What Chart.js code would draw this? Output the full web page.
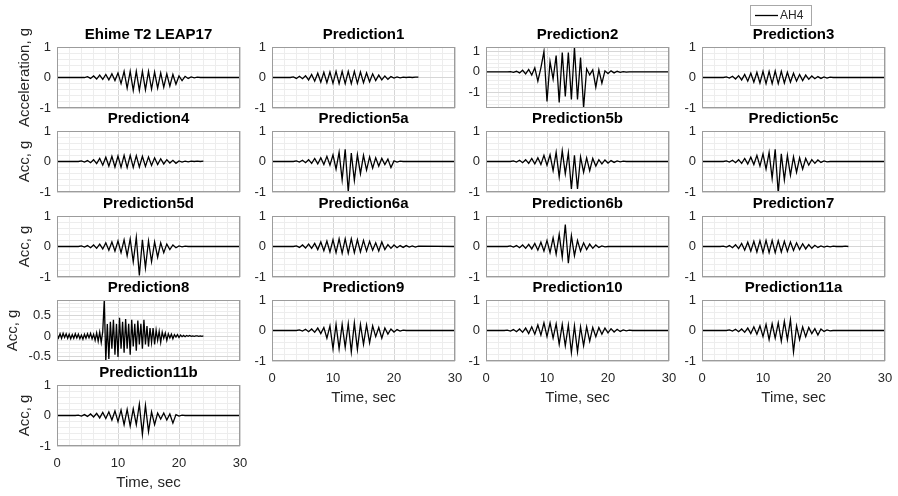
<!DOCTYPE html>
<html>
<head>
<meta charset="utf-8">
<script src="https://cdn.jsdelivr.net/npm/chart.js@4.4.1/dist/chart.umd.min.js"></script>
<style>
  body { margin: 0; background: #fff; }
  #wrap { position: relative; width: 898px; height: 496px; overflow: hidden; background: #fff; }
  #wrap canvas { position: absolute; }
</style>
</head>
<body>
<div id="wrap"></div>
<script>
// time base, sec (most records)
const T = [0,
  3, 3.5, 4, 4.5, 5, 5.5, 6, 6.5, 7, 7.5, 8, 8.5, 9, 9.5, 10, 10.5,
  11, 11.5, 12, 12.5, 13, 13.5, 14, 14.5, 15, 15.5, 16, 16.5, 17, 17.5, 18, 18.5,
  19, 19.5, 20, 20.5, 21, 21.5, 22, 22.5, 23, 23.5, 24,
  30];

// acceleration, g
const ehime = [0,
  0, 0, 0, 0,  0.03, -0.03, 0.05, -0.05,  0.08, -0.06, 0.1, -0.08,  0.12, -0.1, 0.15, -0.2,
  0.2, -0.35, 0.2, -0.42,  0.2, -0.42, 0.2, -0.4,  0.2, -0.38, 0.18, -0.35,  0.15, -0.32, 0.12, -0.28,
  0.1, -0.22, 0.05, -0.1,  0.04, -0.03, 0.02, -0.01,  0.01, 0, 0,
  0];
const pred1 = [0,
  0, 0.02, -0.03, 0.04,  -0.04, 0.06, -0.08, 0.1,  -0.12, 0.14, -0.15, 0.17,  -0.17, 0.18, -0.19, 0.2,
  -0.2, 0.2, -0.2, 0.2,  -0.2, 0.2, -0.19, 0.18,  -0.17, 0.15, -0.14, 0.12,  -0.1, 0.08, -0.08, 0.05,
  -0.06, 0.03, -0.02, 0.02,  -0.01, 0.01, 0, 0.01,  0, 0.01, 0.01,
  null];
const pred2 = [0,
  0, 0, 0.01, -0.02,  0.03, -0.05, 0.08, -0.1,  0.12, -0.15, 0.2, -0.45,  0.2, 1.0, -1.45, 0.5,
  -0.35, 0.8, -1.5, 0.95,  -1.2, 0.95, -1.35, 1.2,  -1.35, 0.7, -1.76, 0.15,  -0.15, 0.1, -0.75, 0.1,
  -0.55, 0.05, -0.08, 0.05,  -0.05, 0.03, -0.02, 0.01,  -0.01, 0, 0,
  0];
const pred3 = [0,
  0, 0, 0.02, -0.02,  0.04, -0.05, 0.06, -0.08,  0.1, -0.12, 0.14, -0.15,  0.17, -0.18, 0.2, -0.2,
  0.2, -0.2, 0.21, -0.2,  0.2, -0.18, 0.17, -0.15,  0.14, -0.12, 0.1, -0.1,  0.08, -0.06, 0.05, -0.04,
  0.03, -0.03, 0.02, -0.02,  0.01, 0, 0, 0,  0, 0, 0,
  0];
const pred4 = [0,
  0, 0, 0.02, -0.02,  0.03, -0.04, 0.06, -0.07,  0.1, -0.12, 0.14, -0.15,  0.17, -0.18, 0.18, -0.19,
  0.2, -0.2, 0.2, -0.19,  0.19, -0.18, 0.17, -0.16,  0.15, -0.13, 0.12, -0.1,  0.09, -0.08, 0.06, -0.05,
  0.04, -0.06, 0.02, -0.02,  0.01, -0.01, 0.01, 0,  0.01, 0, 0.01,
  null];
const pred5a = [0,
  0, 0, 0.02, -0.02,  0.04, -0.04, 0.06, -0.06,  0.1, -0.08, 0.12, -0.1,  0.17, -0.12, 0.22, -0.25,
  0.3, -0.6, 0.4, -1.0,  0.28, -0.62, 0.22, -0.4,  0.2, -0.28, 0.15, -0.22,  0.12, -0.15, 0.1, -0.1,
  0.08, -0.2, 0.02, -0.02,  0.01, 0, 0, 0,  0, 0, 0,
  0];
const pred5b = [0,
  0, 0, 0, 0.02,  -0.02, 0.04, -0.04, 0.06,  -0.06, 0.1, -0.08, 0.12,  -0.1, 0.2, -0.12, 0.22,
  -0.3, 0.3, -0.5, 0.35,  -0.4, 0.28, -0.9, 0.2,  -0.9, 0.15, -0.35, 0.12,  -0.3, 0.1, -0.15, 0.06,
  -0.08, 0.05, -0.05, 0.03,  -0.03, 0.02, -0.01, 0.01,  0, 0, 0,
  0];
const pred5c = [0,
  0, 0, 0.02, -0.02,  0.04, -0.04, 0.06, -0.06,  0.1, -0.08, 0.14, -0.1,  0.2, -0.15, 0.25, -0.25,
  0.3, -0.55, 0.4, -1.05,  0.25, -0.6, 0.2, -0.45,  0.15, -0.35, 0.12, -0.25,  0.1, -0.12, 0.06, -0.06,
  0.05, -0.03, 0.02, -0.01,  0, 0, 0, 0,  0, 0, 0,
  0];
const pred5d = [0,
  0, 0, 0.02, -0.02,  0.03, -0.04, 0.05, -0.06,  0.08, -0.08, 0.12, -0.12,  0.15, -0.15, 0.18, -0.2,
  0.22, -0.3, 0.25, -0.5,  0.3, -0.95, 0.22, -0.7,  0.18, -0.5, 0.15, -0.35,  0.12, -0.2, 0.08, -0.1,
  0.05, -0.04, 0.02, -0.01,  0.01, 0, 0, 0,  0, 0, 0,
  0];
const pred6a = [0,
  0, 0, 0.02, -0.03,  0.05, -0.05, 0.08, -0.06,  0.1, -0.1, 0.15, -0.14,  0.18, -0.18, 0.22, -0.2,
  0.25, -0.22, 0.25, -0.22,  0.25, -0.2, 0.22, -0.18,  0.2, -0.15, 0.17, -0.12,  0.12, -0.15, 0.15, -0.1,
  0.06, -0.06, 0.05, -0.04,  0.03, -0.03, 0.03, -0.02,  0.02, -0.02, 0.01,
  0];
const pred6b = [0,
  0, 0, 0.02, -0.02,  0.03, -0.04, 0.05, -0.06,  0.07, -0.08, 0.1, -0.12,  0.14, -0.15, 0.2, -0.2,
  0.28, -0.25, 0.4, -0.35,  0.72, -0.55, 0.35, -0.3,  0.2, -0.15, 0.12, -0.1,  0.08, -0.06, 0.05, -0.03,
  0.02, -0.01, 0, 0,  0, 0, 0, 0,  0, 0, 0,
  0];
const pred7 = [0,
  0, 0.01, -0.02, 0.03,  -0.04, 0.06, -0.07, 0.1,  -0.12, 0.14, -0.15, 0.17,  -0.18, 0.19, -0.2, 0.2,
  -0.2, 0.2, -0.2, 0.19,  -0.18, 0.17, -0.16, 0.15,  -0.13, 0.12, -0.1, 0.09,  -0.08, 0.06, -0.06, 0.04,
  -0.03, 0.02, -0.02, 0.01,  -0.01, 0.01, 0, 0,  0, 0.01, 0,
  null];
const pred9 = [0,
  0, 0, 0, 0.02,  -0.02, 0.04, -0.04, 0.05,  -0.06, 0.08, -0.1, 0.1,  -0.25, 0.15, -0.6, 0.2,
  -0.6, 0.2, -0.55, 0.22,  -0.7, 0.25, -0.62, 0.2,  -0.45, 0.18, -0.4, 0.15,  -0.2, 0.1, -0.25, 0.08,
  -0.12, 0.05, -0.05, 0.03,  -0.02, 0.01, 0, 0,  0, 0, 0,
  0];
const pred10 = [0,
  0, 0.01, -0.02, 0.03,  -0.04, 0.05, -0.06, 0.08,  -0.1, 0.12, -0.12, 0.18,  -0.15, 0.25, -0.2, 0.25,
  -0.25, 0.22, -0.45, 0.2,  -0.5, 0.18, -0.72, 0.15,  -0.7, 0.12, -0.5, 0.12,  -0.35, 0.1, -0.2, 0.1,
  -0.12, 0.08, -0.08, 0.06,  -0.05, 0.04, -0.03, 0.02,  -0.01, 0.01, 0,
  0];
const pred11a = [0,
  0, 0, 0, 0.02,  -0.02, 0.04, -0.04, 0.05,  -0.06, 0.08, -0.1, 0.12,  -0.12, 0.15, -0.2, 0.2,
  -0.3, 0.22, -0.25, 0.25,  -0.35, 0.3, -0.3, 0.35,  -0.7, 0.15, -0.3, 0.12,  -0.2, 0.1, -0.1, 0.06,
  -0.15, 0.05, -0.03, 0.02,  -0.01, 0, 0, 0,  0, 0, 0,
  0];
const pred11b = [0,
  0, 0.01, -0.02, 0.03,  -0.03, 0.05, -0.05, 0.07,  -0.08, 0.1, -0.1, 0.12,  -0.15, 0.15, -0.2, 0.18,
  -0.3, 0.2, -0.35, 0.22,  -0.3, 0.37, -0.62, 0.33,  -0.53, 0.12, -0.3, 0.08,  -0.12, 0.08, -0.15, 0.05,
  -0.25, 0.03, -0.02, 0.01,  0, 0, 0, 0,  0, 0, 0,
  0];

// Prediction8 is noisy, so it gets its own finer time base
const t8 = [0, 0.25, 0.5, 0.75, 1, 1.25, 1.5, 1.75, 2, 2.25, 2.5, 2.75, 3, 3.25, 3.5, 3.75,
  4, 4.25, 4.5, 4.75, 5, 5.25, 5.5, 5.75, 6, 6.25, 6.5, 6.75, 7, 7.25, 7.5, 7.75,
  8, 8.25, 8.5, 8.75, 9, 9.25, 9.5, 9.75, 10, 10.25, 10.5, 10.75, 11, 11.25, 11.5, 11.75,
  12, 12.25, 12.5, 12.75, 13, 13.25, 13.5, 13.75, 14, 14.25, 14.5, 14.75, 15, 15.25, 15.5, 15.75,
  16, 16.25, 16.5, 16.75, 17, 17.25, 17.5, 17.75, 18, 18.25, 18.5, 18.75, 19, 19.25, 19.5, 19.75,
  20, 20.25, 20.5, 20.75, 21, 21.25, 21.5, 21.75, 22, 22.25, 22.5, 22.75, 23, 23.25, 23.5, 23.75, 24];
const pred8 = [
  0.05, -0.04, 0.06, -0.05,  0.07, -0.03, 0.06, -0.05,  0.05, -0.06, 0.04, -0.05,  0.06, -0.04, 0.05, -0.06,
  0.03, -0.07, 0.05, -0.05,  0.06, -0.04, 0.07, -0.06,  0.05, -0.1, 0.08, -0.12,  0.1, -0.15, 0.12, 0.88,
  -0.6, 0.3, -0.55, 0.35,  -0.3, 0.4, -0.45, 0.3,  -0.5, 0.45, -0.3, 0.35,  -0.4, 0.42, -0.3, 0.3,
  -0.45, 0.4, -0.25, 0.3,  -0.35, 0.38, -0.2, 0.3,  -0.3, 0.4, -0.2, 0.25,  -0.25, 0.2, -0.15, 0.2,
  -0.2, 0.15, -0.1, 0.12,  -0.15, 0.1, -0.05, 0.08,  -0.1, 0.06, -0.04, 0.05,  -0.06, 0.04, -0.02, 0.04,
  -0.03, 0.03, -0.01, 0.02,  -0.01, 0.02, 0, 0.02,  0, 0.01, 0, 0.01,  0.01, 0, 0.01, 0,
  0.01];

const xTicks = [0, 10, 20, 30];

// panel layout
const COL_LEFT = [57, 272, 486, 702];
const ROW_TOP = [47, 131, 216, 300, 385];
const PLOT_W = 183, PLOT_H = 61, TITLE_H = 23;
const FONT = "'Liberation Sans', Arial, Helvetica, sans-serif";
const BOX = '#9c9c9c', MAJOR = '#d6d6d6', MINOR = '#ededed', TXT = '#262626';

const panels = [
  { title: 'Ehime T2 LEAP17', t: T, acc: ehime, col: 0, row: 0 },
  { title: 'Prediction1', t: T, acc: pred1, col: 1, row: 0 },
  { title: 'Prediction2', t: T, acc: pred2, col: 2, row: 0, yMin: -1.77, yMax: 1.22 },
  { title: 'Prediction3', t: T, acc: pred3, col: 3, row: 0, legend: true },
  { title: 'Prediction4', t: T, acc: pred4, col: 0, row: 1 },
  { title: 'Prediction5a', t: T, acc: pred5a, col: 1, row: 1 },
  { title: 'Prediction5b', t: T, acc: pred5b, col: 2, row: 1 },
  { title: 'Prediction5c', t: T, acc: pred5c, col: 3, row: 1 },
  { title: 'Prediction5d', t: T, acc: pred5d, col: 0, row: 2 },
  { title: 'Prediction6a', t: T, acc: pred6a, col: 1, row: 2 },
  { title: 'Prediction6b', t: T, acc: pred6b, col: 2, row: 2 },
  { title: 'Prediction7', t: T, acc: pred7, col: 3, row: 2 },
  { title: 'Prediction8', t: t8, acc: pred8, col: 0, row: 3, yMin: -0.6, yMax: 0.88, minor: 0.1, major: 0.5, yTitlePad: 4 },
  { title: 'Prediction9', t: T, acc: pred9, col: 1, row: 3, xLabels: true },
  { title: 'Prediction10', t: T, acc: pred10, col: 2, row: 3, xLabels: true },
  { title: 'Prediction11a', t: T, acc: pred11a, col: 3, row: 3, xLabels: true },
  { title: 'Prediction11b', t: T, acc: pred11b, col: 0, row: 4, xLabels: true }
];

function isMult(v, step) {
  return Math.abs(v / step - Math.round(v / step)) < 1e-6;
}

function gridColor(major) {
  return (ctx) => (isMult(ctx.tick.value, major) ? MAJOR : MINOR);
}

// axes box on top of everything, like the matlab frame
const frame = {
  id: 'frame',
  afterDraw(chart) {
    const { ctx, chartArea: ca } = chart;
    ctx.save();
    ctx.strokeStyle = BOX;
    ctx.lineWidth = 1;
    ctx.strokeRect(Math.round(ca.left) + 0.5, Math.round(ca.top) + 0.5,
      Math.round(ca.width) - 1, Math.round(ca.height) - 1);
    ctx.restore();
  }
};

// legend box drawn above the Prediction3 panel
const ah4Legend = {
  id: 'ah4Legend',
  afterDraw(chart) {
    const { ctx, chartArea } = chart;
    const x = chartArea.left + 48, y = chartArea.top - 42;
    ctx.save();
    ctx.fillStyle = '#fff';
    ctx.fillRect(x, y, 61, 20);
    ctx.strokeStyle = '#a8a8a8';
    ctx.lineWidth = 1;
    ctx.strokeRect(x + 0.5, y + 0.5, 61, 20);
    ctx.strokeStyle = '#000';
    ctx.lineWidth = 1.3;
    ctx.beginPath();
    ctx.moveTo(x + 5, y + 10.5);
    ctx.lineTo(x + 28, y + 10.5);
    ctx.stroke();
    ctx.fillStyle = TXT;
    ctx.font = '12px ' + FONT;
    ctx.textBaseline = 'middle';
    ctx.fillText(chart.data.datasets[0].label, x + 30, y + 11);
    ctx.restore();
  }
};

const wrap = document.getElementById('wrap');

panels.forEach((p) => {
  const yW = p.col === 0 ? 57 : 36;
  const padTop = p.row === 0 ? 24 : 4;
  const padBottom = 24, padRight = 14;
  const xH = p.xLabels ? 48 : 0;
  const minor = p.minor || 0.2;
  const major = p.major || 1;

  const cv = document.createElement('canvas');
  cv.width = yW + PLOT_W + padRight;
  cv.height = padTop + TITLE_H + PLOT_H + xH + padBottom;
  cv.style.left = (COL_LEFT[p.col] - yW) + 'px';
  cv.style.top = (ROW_TOP[p.row] - TITLE_H - padTop) + 'px';
  wrap.appendChild(cv);

  new Chart(cv, {
    type: 'line',
    data: {
      datasets: [{
        label: 'AH4',
        data: p.t.map((t, i) => ({ x: t, y: p.acc[i] })),
        borderColor: '#000',
        borderWidth: 1.3,
        pointRadius: 0,
        tension: 0,
        spanGaps: false
      }]
    },
    options: {
      responsive: false,
      animation: false,
      devicePixelRatio: 1,
      events: [],
      layout: { padding: { top: padTop, bottom: padBottom, left: 0, right: padRight } },
      plugins: {
        legend: { display: false },
        tooltip: { enabled: false },
        title: {
          display: true,
          text: p.title,
          fullSize: false,
          color: '#000',
          font: { family: FONT, size: 15, weight: 'bold' },
          padding: { top: 2, bottom: 3 }
        }
      },
      scales: {
        x: {
          type: 'linear',
          min: 0,
          max: 30,
          ticks: {
            stepSize: 2,
            includeBounds: false,
            autoSkip: false,
            maxRotation: 0,
            display: !!p.xLabels,
            padding: 10,
            color: TXT,
            font: { family: FONT, size: 13 },
            callback: (v) => (xTicks.includes(v) ? String(v) : '')
          },
          grid: { drawTicks: false, color: gridColor(10) },
          border: { display: false },
          title: {
            display: !!p.xLabels,
            text: 'Time, sec',
            color: TXT,
            font: { family: FONT, size: 15 },
            padding: { top: 0, bottom: 2 }
          },
          afterFit: (s) => {
            s.height = xH;
            s.paddingLeft = 0;
            s.paddingRight = 0;
          }
        },
        y: {
          min: p.yMin !== undefined ? p.yMin : -1,
          max: p.yMax !== undefined ? p.yMax : 1,
          ticks: {
            stepSize: minor,
            includeBounds: false,
            autoSkip: false,
            padding: 6,
            color: TXT,
            font: { family: FONT, size: 13 },
            callback: (v) => (isMult(v, major) ? String(Math.round(v * 100) / 100) : '')
          },
          grid: { drawTicks: false, color: gridColor(major) },
          border: { display: false },
          title: {
            display: p.col === 0,
            text: p.row === 0 ? 'Acceleration, g' : 'Acc, g',
            color: TXT,
            font: { family: FONT, size: 15 },
            padding: { top: p.yTitlePad !== undefined ? p.yTitlePad : 16, bottom: 0 }
          },
          afterFit: (s) => {
            s.width = yW;
            s.paddingTop = 0;
            s.paddingBottom = 0;
          }
        }
      }
    },
    plugins: p.legend ? [frame, ah4Legend] : [frame]
  });
});
</script>
</body>
</html>
